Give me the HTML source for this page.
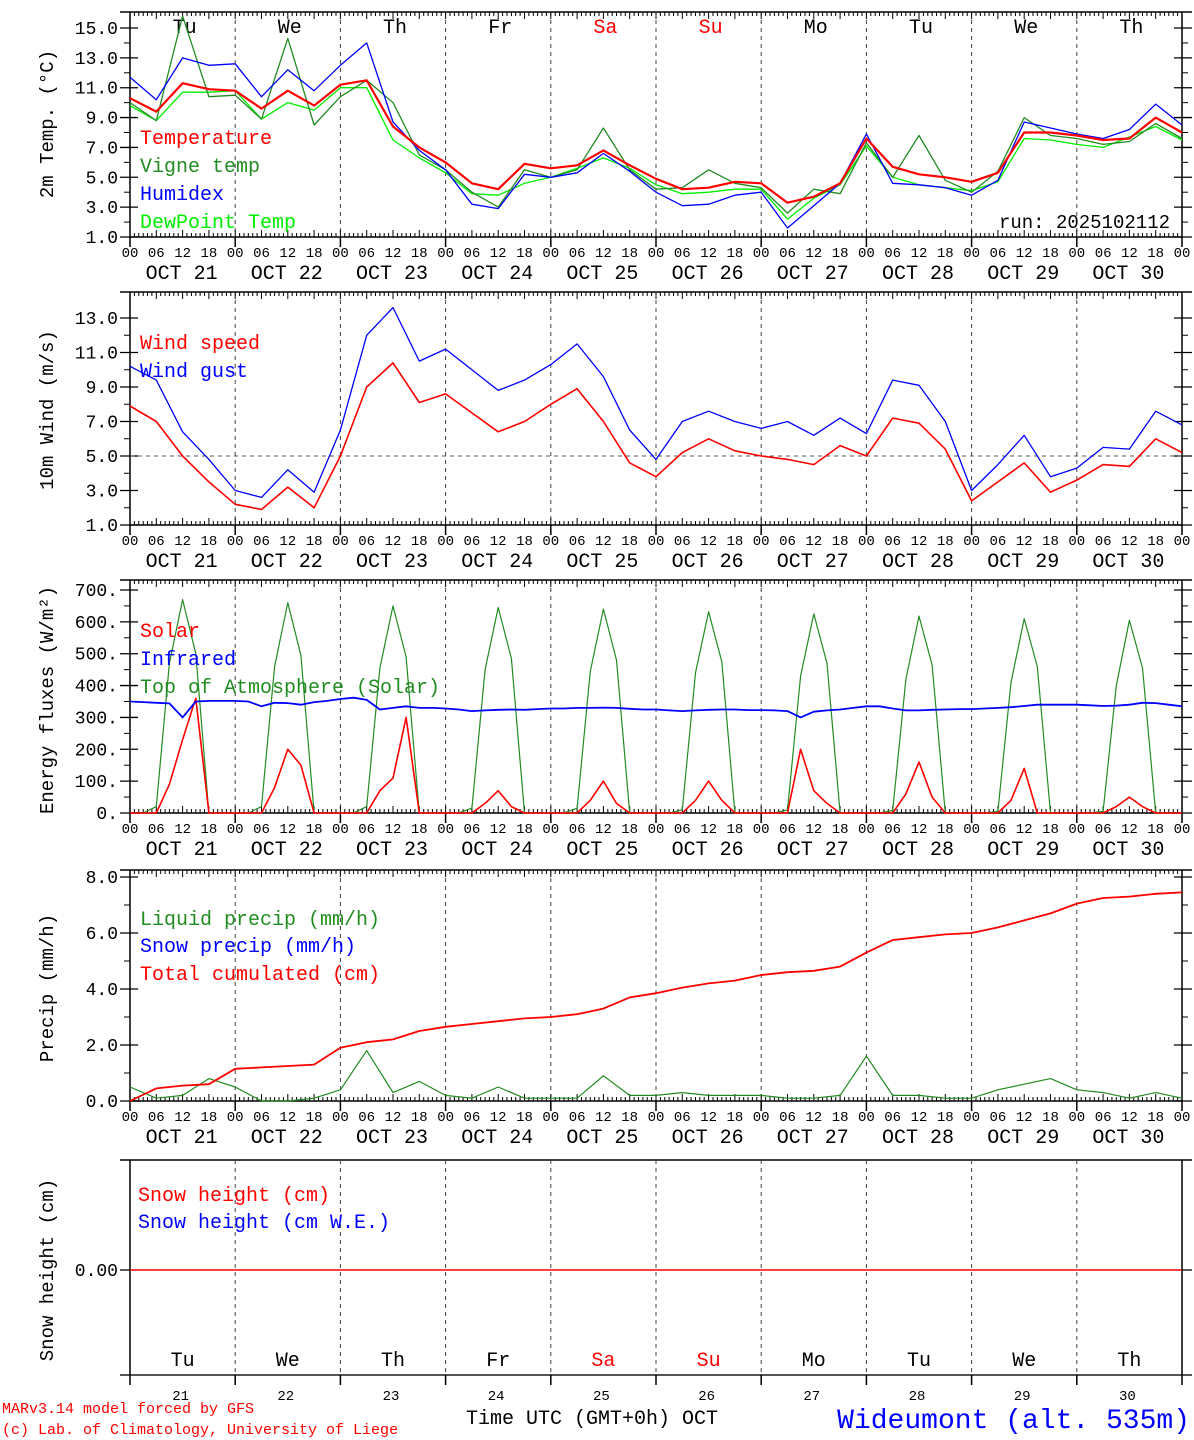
<!DOCTYPE html>
<html><head><meta charset="utf-8">
<style>
html,body{margin:0;padding:0;background:#fff;}
svg{display:block;font-family:"Liberation Mono","DejaVu Sans Mono",monospace;}
</style></head>
<body>
<svg id="chart" width="1194" height="1440" viewBox="0 0 1194 1440" xmlns="http://www.w3.org/2000/svg"></svg>
<script>
// ---------- data ----------
const dayNames = ["Tu","We","Th","Fr","Sa","Su","Mo","Tu","We","Th"];
const dayNums = ["21","22","23","24","25","26","27","28","29","30"];
const dateLabels = ["OCT 21","OCT 22","OCT 23","OCT 24","OCT 25","OCT 26","OCT 27","OCT 28","OCT 29","OCT 30"];
// 6-hourly (41 points from Oct21 00 to Oct31 00)
const tempVals = [10.3,9.4,11.3,10.9, 10.8,9.6,10.8,9.8, 11.2,11.5,8.4,7.0, 6.0,4.6,4.2,5.9, 5.6,5.8,6.8,5.8, 4.9,4.2,4.3,4.7, 4.6,3.3,3.7,4.6, 7.6,5.7,5.2,5.0, 4.7,5.3,8.0,8.0, 7.8,7.5,7.6,9.0, 8.0];
const vigneVals = [10.0,8.8,15.8,10.4, 10.5,8.9,14.3,8.5, 10.4,11.5,10.0,6.5, 5.5,4.0,3.0,5.5, 5.0,5.5,8.3,5.5, 4.2,4.3,5.5,4.6, 4.3,2.6,4.2,3.9, 7.3,5.0,7.8,4.8, 4.0,5.4,9.0,7.8, 7.6,7.2,7.4,8.6, 7.6];
const humidexVals = [11.7,10.2,13.0,12.5, 12.6,10.4,12.2,10.8, 12.5,14.0,8.7,6.8, 5.5,3.2,2.9,5.2, 5.0,5.3,6.6,5.4, 4.0,3.1,3.2,3.8, 4.0,1.6,3.1,4.6, 7.9,4.6,4.5,4.3, 3.8,4.8,8.7,8.3, 7.9,7.6,8.2,9.9, 8.5];
const dewVals = [9.8,8.8,10.7,10.7, 10.8,8.9,10.0,9.5, 11.0,11.0,7.5,6.3, 5.3,3.9,3.8,4.6, 5.0,5.6,6.3,5.6, 4.5,3.9,4.0,4.2, 4.2,2.2,3.6,4.5, 7.1,5.0,4.5,4.3, 4.1,4.7,7.6,7.5, 7.2,7.0,7.7,8.4, 7.5];
const windVals = [7.9,7.0,5.0,3.5, 2.2,1.9,3.2,2.0, 5.0,9.0,10.4,8.1, 8.6,7.5,6.4,7.0, 8.0,8.9,7.0,4.6, 3.8,5.2,6.0,5.3, 5.0,4.8,4.5,5.6, 5.0,7.2,6.9,5.4, 2.4,3.5,4.6,2.9, 3.6,4.5,4.4,6.0, 5.2];
const gustVals = [10.2,9.4,6.4,4.8, 3.0,2.6,4.2,2.9, 6.5,12.0,13.6,10.5, 11.2,10.0,8.8,9.4, 10.3,11.5,9.6,6.5, 4.8,7.0,7.6,7.0, 6.6,7.0,6.2,7.2, 6.3,9.4,9.1,7.0, 3.0,4.5,6.2,3.8, 4.3,5.5,5.4,7.6, 6.8];
const precipVals = [0.5,0.1,0.2,0.8, 0.5,0.0,0.0,0.1, 0.4,1.8,0.3,0.7, 0.2,0.1,0.5,0.1, 0.1,0.1,0.9,0.2, 0.2,0.3,0.2,0.2, 0.2,0.1,0.1,0.2, 1.6,0.2,0.2,0.1, 0.1,0.4,0.6,0.8, 0.4,0.3,0.1,0.3, 0.1];
const cumulVals = [0.0,0.45,0.55,0.6, 1.15,1.2,1.25,1.3, 1.9,2.1,2.2,2.5, 2.65,2.75,2.85,2.95, 3.0,3.1,3.3,3.7, 3.85,4.05,4.2,4.3, 4.5,4.6,4.65,4.8, 5.3,5.75,5.85,5.95, 6.0,6.2,6.45,6.7, 7.05,7.25,7.3,7.4, 7.45];
// 3-hourly (81 points)
const solarVals = [0,0,0,90,230,360,0,0, 0,0,0,80,200,150,0,0, 0,0,0,70,110,300,0,0, 0,0,0,30,70,20,0,0, 0,0,0,40,100,30,0,0, 0,0,0,40,100,40,0,0, 0,0,0,200,70,30,0,0, 0,0,0,60,160,50,0,0, 0,0,0,40,140,0,0,0, 0,0,0,20,50,20,0,0, 0];
const toaVals = [0,0,20,470,670,500,0,0, 0,0,20,460,660,495,0,0, 0,0,20,455,650,490,0,0, 0,0,15,450,645,485,0,0, 0,0,15,445,640,480,0,0, 0,0,10,440,632,475,0,0, 0,0,10,430,625,470,0,0, 0,0,8,420,618,465,0,0, 0,0,5,410,610,460,0,0, 0,0,5,400,605,455,0,0, 0];
const irVals = [350,348,346,344,300,350,352,352, 352,350,335,346,345,340,348,352, 358,362,355,325,330,335,330,330, 328,325,320,322,324,325,324,326, 328,328,330,330,331,330,327,325, 325,322,320,322,324,325,325,323, 323,322,320,300,318,322,325,330, 335,335,328,322,322,324,325,326, 326,328,330,332,336,340,340,340, 340,338,336,337,340,346,345,340, 335];
// tick values
const p1Ticks = [1,3,5,7,9,11,13,15];
const p2Ticks = [1,3,5,7,9,11,13];
const p3Ticks = [0,100,200,300,400,500,600,700];
const p4Ticks = [0,2,4,6,8];

// ---------- helpers ----------
const NS = "http://www.w3.org/2000/svg";
const svg = document.getElementById("chart");
const X0 = 130, X1 = 1182;
function xs(h){ return X0 + h*(X1-X0)/240; }
function lin(v0,p0,v1,p1){ return v => p0 + (v-v0)*(p1-p0)/(v1-v0); }
function el(tag, attrs, name, parent){
  const e = document.createElementNS(NS, tag);
  for (const k in attrs) e.setAttribute(k, attrs[k]);
  
  
  (parent||svg).appendChild(e);
  return e;
}
function txt(x,y,s,name,opts){
  opts = opts||{};
  const t = el('text', {x:x,y:y,'font-size':opts.size||19,fill:opts.fill||'#000','text-anchor':opts.anchor||'start'}, name);
  if (opts.transform) t.setAttribute('transform', opts.transform);
  t.textContent = s;
  return t;
}
function series(vals, step, y, color, width, name){
  const pts = vals.map((v,i)=> xs(i*step).toFixed(1)+","+y(v).toFixed(1)).join(" ");
  el('polyline', {points:pts, fill:'none', stroke:color, 'stroke-width':width, 'stroke-linejoin':'round'}, name);
}

function panel(top, bottom, y, ticks, fmt, title, titleY, pname){
  el('line', {x1:X0,y1:top,x2:X1,y2:top,stroke:'#000','stroke-width':1.5}, pname+'-top-border');
  el('line', {x1:X0,y1:bottom,x2:X1,y2:bottom,stroke:'#000','stroke-width':1.5}, pname+'-bottom-border');
  el('line', {x1:X0,y1:top,x2:X0,y2:bottom+10,stroke:'#000','stroke-width':1.5}, pname+'-left-border');
  el('line', {x1:X1,y1:top,x2:X1,y2:bottom+10,stroke:'#000','stroke-width':1.5}, pname+'-right-border');
  el('line', {x1:X0-10,y1:top,x2:X0,y2:top,stroke:'#000','stroke-width':1.5}, pname+'-top-tick');
  el('line', {x1:X1,y1:top,x2:X1+10,y2:top,stroke:'#000','stroke-width':1.5}, pname+'-top-tick-right');
  for (let d=1; d<10; d++){
    el('line', {x1:xs(d*24),y1:top,x2:xs(d*24),y2:bottom,stroke:'#444','stroke-width':1,'stroke-dasharray':'4,4'}, pname+'-day-separator');
    el('line', {x1:xs(d*24),y1:bottom,x2:xs(d*24),y2:bottom+10,stroke:'#000','stroke-width':1.5}, pname+'-day-tick');
  }
  let d1 = "";
  for (let h=0; h<=240; h++){
    const x = xs(h).toFixed(1);
    const len = (h%6===0)?7:4;
    d1 += "M"+x+","+top+"v"+len+"M"+x+","+bottom+"v-"+len;
  }
  el('path', {d:d1, stroke:'#000','stroke-width':1,fill:'none'}, pname+'-x-minor-ticks');
  ticks.forEach(v=>{
    const yy = y(v);
    el('line', {x1:X0-10,y1:yy,x2:X0+8,y2:yy,stroke:'#000','stroke-width':1.3}, pname+'-y-tick');
    el('line', {x1:X1-8,y1:yy,x2:X1+10,y2:yy,stroke:'#000','stroke-width':1.3}, pname+'-y-tick-right');
    txt(X0-12, yy+6, fmt(v), pname+'-y-tick-label', {anchor:'end', size:18});
  });
  for (let i=0;i<ticks.length-1;i++){
    const yy = y((ticks[i]+ticks[i+1])/2);
    el('line', {x1:X0-6,y1:yy,x2:X0,y2:yy,stroke:'#000','stroke-width':1}, pname+'-y-minor-tick');
    el('line', {x1:X1,y1:yy,x2:X1+6,y2:yy,stroke:'#000','stroke-width':1}, pname+'-y-minor-tick-right');
  }
  txt(0,0,title, pname+'-y-axis-title', {anchor:'middle', size:19, transform:'translate(53,'+titleY+') rotate(-90)'});
}
function xLabels(bottom, pname){
  for (let d=0; d<10; d++){
    ["00","06","12","18"].forEach((s,k)=>{
      txt(xs(d*24+k*6), bottom+26, s, pname+'-x-hour-label', {anchor:'middle', size:14});
    });
    txt(xs(d*24+12)-1, bottom+48, dateLabels[d], pname+'-x-date-label', {anchor:'middle', size:20});
  }
  txt(xs(240), bottom+26, "00", pname+'-x-hour-label', {anchor:'middle', size:14});
}
function legend(x,y,s,color,name){ txt(x,y,s,name,{fill:color,size:20}); }

// ---------- panel 1: temperature ----------
const y1 = lin(1,237,15,28);
panel(12,237,y1,p1Ticks,v=>v.toFixed(1),"2m Temp. (\u00B0C)",124,'temp-panel');
xLabels(231,'temp-panel');
dayNames.forEach((n,d)=> txt(xs(d*24+12)+2, 33, n, 'temp-day-name', {anchor:'middle', size:20, fill:(n==="Sa"||n==="Su")?'#f00':'#000'}));
series(dewVals,6,y1,'#00ee00',1.3,'dewpoint-line');
series(vigneVals,6,y1,'#228b22',1.3,'vigne-temp-line');
series(humidexVals,6,y1,'#0000ff',1.3,'humidex-line');
series(tempVals,6,y1,'#ff0000',2.2,'temperature-line');
legend(140,144,"Temperature","#ff0000",'legend-temperature');
legend(140,172,"Vigne temp","#228b22",'legend-vigne-temp');
legend(140,200,"Humidex","#0000ff",'legend-humidex');
legend(140,228,"DewPoint Temp","#00ee00",'legend-dewpoint');
txt(1170,228,"run: 2025102112",'run-label',{anchor:'end',size:19});

// ---------- panel 2: wind ----------
const y2 = lin(1,525,13,318);
panel(292,525,y2,p2Ticks,v=>v.toFixed(1),"10m Wind (m/s)",410,'wind-panel');
xLabels(519,'wind-panel');
el('line',{x1:X0,y1:y2(5),x2:X1,y2:y2(5),stroke:'#555','stroke-width':1,'stroke-dasharray':'4,4'},'wind-reference-line');
series(gustVals,6,y2,'#0000ff',1.3,'wind-gust-line');
series(windVals,6,y2,'#ff0000',1.6,'wind-speed-line');
legend(140,349,"Wind speed","#ff0000",'legend-wind-speed');
legend(140,377,"Wind gust","#0000ff",'legend-wind-gust');

// ---------- panel 3: energy ----------
const y3 = lin(0,813,700,590);
panel(580,813,y3,p3Ticks,v=>v.toFixed(0)+".","Energy fluxes (W/m\u00B2)",700,'energy-panel');
xLabels(807,'energy-panel');
series(toaVals,3,y3,'#228b22',1.2,'toa-solar-line');
series(solarVals,3,y3,'#ff0000',1.6,'solar-line');
series(irVals,3,y3,'#0000ff',1.8,'infrared-line');
legend(140,637,"Solar","#ff0000",'legend-solar');
legend(140,665,"Infrared","#0000ff",'legend-infrared');
legend(140,693,"Top of Atmosphere (Solar)","#228b22",'legend-toa');

// ---------- panel 4: precip ----------
const y4 = lin(0,1101,8,877);
panel(870,1101,y4,p4Ticks,v=>v.toFixed(1),"Precip (mm/h)",988,'precip-panel');
xLabels(1095,'precip-panel');
series(precipVals,6,y4,'#228b22',1.2,'liquid-precip-line');
series(cumulVals,6,y4,'#ff0000',1.8,'cumulated-precip-line');
legend(140,925,"Liquid precip (mm/h)","#228b22",'legend-liquid-precip');
legend(140,952,"Snow precip (mm/h)","#0000ff",'legend-snow-precip');
legend(140,980,"Total cumulated (cm)","#ff0000",'legend-total-cumulated');

// ---------- panel 5: snow ----------
const y5 = lin(0,1270,1,1160);
el('line',{x1:X0-10,y1:1160,x2:X1+10,y2:1160,stroke:'#000','stroke-width':1.5},'snow-panel-top-border');
el('line',{x1:X0-10,y1:1375,x2:X1+10,y2:1375,stroke:'#555','stroke-width':2},'snow-panel-bottom-border');
el('line',{x1:X0,y1:1160,x2:X0,y2:1385,stroke:'#000','stroke-width':1.5},'snow-panel-left-border');
el('line',{x1:X1,y1:1160,x2:X1,y2:1385,stroke:'#000','stroke-width':1.5},'snow-panel-right-border');
for (let d=1; d<10; d++){
  el('line',{x1:xs(d*24),y1:1160,x2:xs(d*24),y2:1375,stroke:'#444','stroke-width':1,'stroke-dasharray':'4,4'},'snow-day-separator');
  el('line',{x1:xs(d*24),y1:1375,x2:xs(d*24),y2:1385,stroke:'#000','stroke-width':1.5},'snow-day-tick');
}
el('line',{x1:X0-10,y1:y5(0),x2:X0,y2:y5(0),stroke:'#000','stroke-width':1.3},'snow-y-tick');
el('line',{x1:X1,y1:y5(0),x2:X1+10,y2:y5(0),stroke:'#000','stroke-width':1.3},'snow-y-tick-right');
txt(X0-12,y5(0)+6,"0.00",'snow-y-tick-label',{anchor:'end',size:18});
el('line',{x1:X0,y1:y5(0),x2:X1,y2:y5(0),stroke:'#ff0000','stroke-width':1.5},'snow-height-line');
txt(0,0,"Snow height (cm)",'snow-y-axis-title',{anchor:'middle',size:19,transform:'translate(53,1270) rotate(-90)'});
legend(138,1201,"Snow height (cm)","#ff0000",'legend-snow-height');
legend(138,1228,"Snow height (cm W.E.)","#0000ff",'legend-snow-we');
dayNames.forEach((n,d)=> txt(xs(d*24+12), 1366, n, 'snow-day-name', {anchor:'middle', size:20, fill:(n==="Sa"||n==="Su")?'#f00':'#000'}));
dayNums.forEach((n,d)=> txt(xs(d*24+12)-2, 1400, n, 'x-day-number', {anchor:'middle', size:14}));

// ---------- footer ----------
txt(2,1413,"MARv3.14 model forced by GFS",'model-credit',{fill:'#ff0000',size:15});
txt(2,1434,"(c) Lab. of Climatology, University of Liege",'lab-credit',{fill:'#ff0000',size:15});
txt(592,1424,"Time UTC (GMT+0h) OCT",'x-axis-title',{anchor:'middle',size:20});
txt(1190,1428,"Wideumont (alt. 535m)",'station-title',{anchor:'end',size:28,fill:'#0000ff'});
</script>
</body></html>
